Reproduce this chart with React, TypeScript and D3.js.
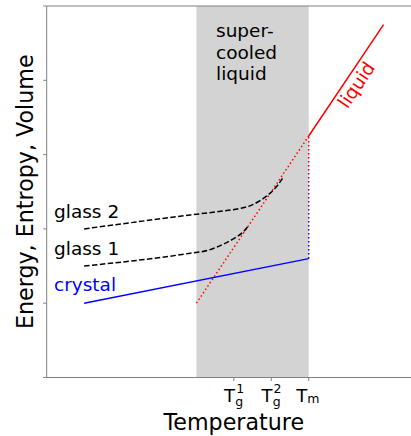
import React from "react";
import * as d3 from "d3";

const W = 411;
const H = 436;

// data (in arbitrary units)
const crystalX = [-3, 3];
const crystalY = [1.0, 1.6];
const liquidDottedX = [0, 3];
const liquidDottedY = [1.0, 3.25];
const liquidSolidX = [3, 5];
const liquidSolidY = [3.25, 4.75];
const glass1X = [-3, -0.17, 0.3, 0.7, 1.0, 1.25, 1.38];
const glass1Y = [1.5, 1.672, 1.71, 1.79, 1.87, 1.96, 2.035];
const glass2X = [-3, -0.17, 0.6, 1.165, 1.43, 1.7, 1.967, 2.19, 2.3];
const glass2Y = [2.0, 2.187, 2.235, 2.275, 2.31, 2.38, 2.48, 2.6, 2.68];
const superRange = [0, 3];
const Tm = 3;
const xTicks = [
  { v: 1, sup: "1", sub: "g" },
  { v: 2, sup: "2", sub: "g" },
];
const yTicks = [0, 1, 2, 3, 4, 5];

const FONT = "DejaVu Sans, sans-serif";

export default function App() {
  const x = d3.scaleLinear().domain([-4, 6]).range([46.7, 421]);
  const y = d3.scaleLinear().domain([0, 5]).range([377.5, 6]);
  const line = d3
    .line<[number, number]>()
    .x((d) => x(d[0]))
    .y((d) => y(d[1]));
  const curve = d3
    .line<[number, number]>()
    .x((d) => x(d[0]))
    .y((d) => y(d[1]))
    .curve(d3.curveMonotoneX);
  const zip = (a: number[], b: number[]) => a.map((v, i) => [v, b[i]] as [number, number]);

  const left = x(-4);
  const top = y(5);
  const bottom = y(0);

  // liquid label geometry
  const p0: [number, number] = [x(liquidSolidX[0]), y(liquidSolidY[0])];
  const p1: [number, number] = [x(liquidSolidX[1]), y(liquidSolidY[1])];
  const dx = p1[0] - p0[0];
  const dy = p1[1] - p0[1];
  const len = Math.hypot(dx, dy);
  const ux = dx / len;
  const uy = dy / len;
  const ang = (Math.atan2(dy, dx) * 180) / Math.PI;
  const along = 69;
  const off = 17.5;
  const lx = p0[0] + ux * along + -uy * off;
  const ly = p0[1] + uy * along + ux * off;

  const spine = "#808080";

  return (
    <svg
      width={W}
      height={H}
      style={{ position: "fixed", left: 0, top: 0, background: "#fff" }}
      fontFamily={FONT}
    >
      <defs>
        <linearGradient
          id="vgrad"
          gradientUnits="userSpaceOnUse"
          x1={0}
          y1={y(liquidDottedY[1])}
          x2={0}
          y2={y(crystalY[1])}
        >
          <stop offset="0%" stopColor="#ff0000" />
          <stop offset="100%" stopColor="#0000ff" />
        </linearGradient>
      </defs>
      <rect x={0} y={0} width={W} height={H} fill="#fff" />
      {/* supercooled region */}
      <rect
        x={x(superRange[0])}
        y={top}
        width={x(superRange[1]) - x(superRange[0])}
        height={bottom - top}
        fill="#d3d3d3"
      />
      {/* liquid */}
      <path
        d={line(zip(liquidDottedX, liquidDottedY)) || ""}
        fill="none"
        stroke="#ff0000"
        strokeWidth={1.5}
        strokeDasharray="1.5 2.5"
      />
      <path
        d={line(zip(liquidSolidX, liquidSolidY)) || ""}
        fill="none"
        stroke="#ff0000"
        strokeWidth={1.5}
      />
      {/* vertical melting jump */}
      <line
        x1={x(Tm)}
        x2={x(Tm) + 0.001}
        y1={y(crystalY[1])}
        y2={y(liquidDottedY[1])}
        stroke="url(#vgrad)"
        strokeWidth={1.5}
        strokeDasharray="1.5 2.5"
      />
      {/* crystal */}
      <path
        d={line(zip(crystalX, crystalY)) || ""}
        fill="none"
        stroke="#0000ff"
        strokeWidth={1.5}
      />
      {/* glasses */}
      <path
        d={curve(zip(glass1X, glass1Y)) || ""}
        fill="none"
        stroke="#000"
        strokeWidth={1.5}
        strokeDasharray="5.5 2.4"
      />
      <path
        d={curve(zip(glass2X, glass2Y)) || ""}
        fill="none"
        stroke="#000"
        strokeWidth={1.5}
        strokeDasharray="5.5 2.4"
      />

      {/* spines */}
      <line x1={left} x2={W} y1={top} y2={top} stroke={spine} strokeWidth={1} />
      <line x1={left} x2={W} y1={bottom} y2={bottom} stroke={spine} strokeWidth={1} />
      <line x1={left} x2={left} y1={top} y2={bottom} stroke={spine} strokeWidth={1} />
      {yTicks.map((t) => (
        <line key={t} x1={left - 3.5} x2={left} y1={y(t)} y2={y(t)} stroke={spine} strokeWidth={1} />
      ))}
      {[...xTicks.map((t) => t.v), Tm].map((t) => (
        <line key={t} x1={x(t)} x2={x(t)} y1={bottom} y2={bottom + 3.5} stroke={spine} strokeWidth={1} />
      ))}

      {/* x tick labels */}
      {xTicks.map((t) => (
        <g key={t.v} transform={`translate(${x(t.v)},0)`} fill="#000">
          <text x={-9.8} y={401.5} fontSize={18}>T</text>
          <text x={2.3} y={392.5} fontSize={12.5}>{t.sup}</text>
          <text x={1.5} y={405.5} fontSize={12.5}>{t.sub}</text>
        </g>
      ))}
      <g transform={`translate(${x(Tm)},0)`} fill="#000">
        <text x={-12.5} y={401.5} fontSize={18}>T</text>
        <text x={-1.5} y={402.5} fontSize={12.5}>m</text>
      </g>

      {/* axis labels */}
      <text x={(left + x(6)) / 2} y={430} fontSize={22.2} textAnchor="middle" fill="#000">
        Temperature
      </text>
      <text
        transform={`translate(33,${(top + bottom) / 2}) rotate(-90)`}
        fontSize={22.2}
        textAnchor="middle"
        fill="#000"
      >
        Energy, Entropy, Volume
      </text>

      {/* annotations */}
      <text x={216} y={37} fontSize={18.5} fill="#000">super-</text>
      <text x={216} y={58.5} fontSize={18.5} fill="#000">cooled</text>
      <text x={216} y={80} fontSize={18.5} fill="#000">liquid</text>
      <text x={54} y={218} fontSize={18.5} fill="#000">glass 2</text>
      <text x={54} y={255} fontSize={18.5} fill="#000">glass 1</text>
      <text x={54} y={291} fontSize={18.5} fill="#0000ff">crystal</text>
      <text
        transform={`translate(${lx},${ly}) rotate(${ang})`}
        fontSize={18.5}
        textAnchor="middle"
        fill="#ff0000"
      >
        liquid
      </text>
    </svg>
  );
}
